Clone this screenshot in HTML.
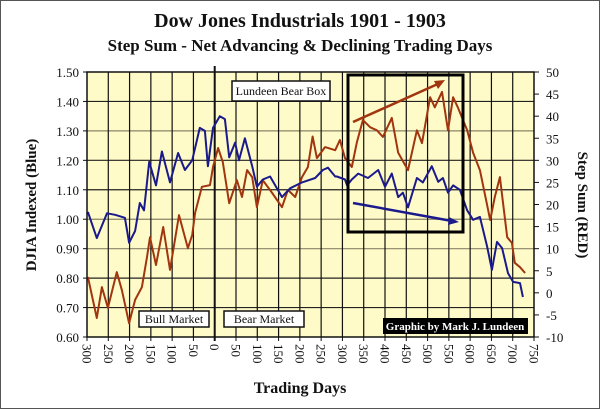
<!DOCTYPE html>
<html><head><meta charset="utf-8">
<style>
html,body{margin:0;padding:0;background:#fff;}
svg{display:block;font-family:"Liberation Serif",serif;}
</style></head>
<body>
<svg id="chart" width="600" height="409" viewBox="0 0 600 409" xmlns="http://www.w3.org/2000/svg">
<rect x="0.5" y="0.5" width="599" height="408" fill="#fff" stroke="#555" stroke-width="1"/>
<text x="300" y="27" text-anchor="middle" font-size="20" font-weight="bold" fill="#111">Dow Jones Industrials 1901 -  1903</text>
<text x="300" y="51" text-anchor="middle" font-size="17" font-weight="bold" fill="#111">Step Sum -  Net Advancing &amp; Declining Trading Days</text>
<rect x="87" y="72" width="447" height="265" fill="#fffbc8"/>
<g id="grid"></g>
<g id="series"></g>
<rect x="87" y="72" width="447" height="265" fill="none" stroke="#111" stroke-width="1.5"/>
<g id="axes"></g>
<rect x="348" y="75" width="115" height="157" fill="none" stroke="#000" stroke-width="3"/>
<line x1="353" y1="122" x2="440" y2="83" stroke="#a0350f" stroke-width="2.5"/>
<polygon points="445,80 434,81 438,89" fill="#a0350f"/>
<line x1="353" y1="203" x2="452" y2="221" stroke="#1a1a8c" stroke-width="2.5"/>
<polygon points="459,222 449,217 448,225" fill="#1a1a8c"/>
<rect x="232" y="81" width="98" height="20" fill="#fff" stroke="#111" stroke-width="1.5"/>
<text x="281" y="95" text-anchor="middle" font-size="12" fill="#111">Lundeen Bear Box</text>
<rect x="139" y="311" width="70" height="16" fill="#fff" stroke="#111" stroke-width="1.5"/>
<text x="174" y="323" text-anchor="middle" font-size="12" fill="#111">Bull Market</text>
<rect x="224" y="311" width="80" height="16" fill="#fff" stroke="#111" stroke-width="1.5"/>
<text x="264" y="323" text-anchor="middle" font-size="12" fill="#111">Bear Market</text>
<rect x="383" y="318" width="145" height="16" fill="#000"/>
<text x="455" y="330" text-anchor="middle" font-size="11" font-weight="bold" fill="#fff">Graphic by Mark J. Lundeen</text>
<text transform="translate(36,205) rotate(-90)" text-anchor="middle" font-size="15" font-weight="bold" fill="#111">DJIA Indexed (Blue)</text>
<text transform="translate(578,205) rotate(90)" text-anchor="middle" font-size="15" font-weight="bold" fill="#111">Step Sum (RED)</text>
<text x="300" y="393" text-anchor="middle" font-size="16" font-weight="bold" fill="#111">Trading Days</text>
</svg>
<script>
const blueDays=[-298,-277,-253,-234,-211,-201,-187,-176,-166,-154,-138,-124,-105,-86,-70,-53,-35,-23,-16,-4,12,24,34,48,57,71,88,99,113,130,158,177,205,236,254,266,283,287,306,311,322,337,360,384,400,416,431,442,454,475,489,510,525,536,548,560,576,593,607,623,640,651,663,675,689,701,717,724];
const blueVals=[1.025,0.936,1.02,1.015,1.005,0.92,0.96,1.055,1.03,1.195,1.115,1.23,1.125,1.225,1.167,1.2,1.31,1.30,1.18,1.31,1.35,1.34,1.21,1.26,1.20,1.275,1.18,1.11,1.135,1.145,1.075,1.105,1.125,1.14,1.167,1.175,1.145,1.145,1.135,1.115,1.135,1.155,1.14,1.167,1.11,1.155,1.075,1.09,1.04,1.14,1.125,1.18,1.127,1.14,1.09,1.115,1.10,1.03,0.998,1.008,0.906,0.828,0.923,0.902,0.817,0.787,0.783,0.736];
const redDays=[-298,-277,-265,-251,-230,-218,-201,-187,-171,-159,-152,-138,-121,-105,-84,-63,-53,-46,-30,-11,-4,8,19,34,52,64,76,88,99,113,135,158,172,189,205,219,230,240,259,283,294,306,322,334,348,365,381,395,416,431,454,475,487,506,517,534,548,560,571,593,607,623,647,658,670,687,698,705,717,729];
const redVals=[3.6,-5.7,1.3,-3.4,4.7,0.6,-6.9,-1.6,1.3,8.1,12.6,6.3,14.9,5.2,17.6,10.1,13.1,18.1,24,24.4,28.5,32.8,29.6,20.3,25.5,21.7,27.8,26.2,19.4,25.5,22.6,19.4,23.3,21.7,26.2,28.5,35.4,30.5,33,32.3,34.6,30.5,28.5,34.1,39.1,37.5,36.8,35.3,39.6,31.7,27.8,36.8,33.9,44.3,42,45.5,36.8,44.3,42,36.8,31.7,27.8,16.5,21.7,26.2,12.6,11.3,6.8,5.8,4.5];
const xTicks=[-300,-250,-200,-150,-100,-50,0,50,100,150,200,250,300,350,400,450,500,550,600,650,700,750];
const leftTicks=[0.6,0.7,0.8,0.9,1.0,1.1,1.2,1.3,1.4,1.5];
const rightTicks=[-10,-5,0,5,10,15,20,25,30,35,40,45,50];
const NS="http://www.w3.org/2000/svg";
const X0=87,X1=534,Y0=337,Y1=72;
function xs(d){return X0+(d+300)*(X1-X0)/1050;}
function yl(v){return Y0-(v-0.6)*(Y0-Y1)/0.9;}
function yr(s){return Y0-(s+10)*(Y0-Y1)/60;}
function mk(tag,attrs,parent){const e=document.createElementNS(NS,tag);for(const k in attrs)e.setAttribute(k,attrs[k]);parent.appendChild(e);return e;}
const grid=document.getElementById('grid'),axes=document.getElementById('axes'),series=document.getElementById('series');
const greyLines=[1.3,1.0,0.9];
leftTicks.forEach(v=>{
  if(v>0.6&&v<1.5){
    const ln=mk('line',{x1:X0,x2:X1,y1:yl(v),y2:yl(v),stroke:greyLines.some(g=>Math.abs(g-v)<1e-6)?'#8a8468':'#222','stroke-width':1.2},grid);
    
    
  }
  const t=mk('text',{x:79,y:yl(v)+5,'text-anchor':'end','font-size':13,fill:'#111'},axes);
  t.textContent=v.toFixed(2);
  
  
  const tk=mk('line',{x1:X0-4,x2:X0,y1:yl(v),y2:yl(v),stroke:'#111'},axes);
  
  
});
rightTicks.forEach(s=>{
  const t=mk('text',{x:546,y:yr(s)+5,'text-anchor':'start','font-size':13,fill:'#111'},axes);
  t.textContent=String(s);
  
  
  const tk=mk('line',{x1:X1,x2:X1+5,y1:yr(s),y2:yr(s),stroke:'#111'},axes);
  
  
});
xTicks.forEach(d=>{
  const x=xs(d);
  if(d>-300&&d<750){
    const ln=mk('line',{x1:x,x2:x,y1:d===0?66:Y1,y2:d===0?341:Y0,stroke:'#111','stroke-width':d===0?2:1.2},grid);
    
    
  }
  const tk=mk('line',{x1:x,x2:x,y1:Y0,y2:Y0+4,stroke:'#111'},axes);
  
  
  const t=mk('text',{transform:`translate(${x-4.5},${Y0+7}) rotate(90)`,'text-anchor':'start','font-size':13,fill:'#111'},axes);
  t.textContent=String(Math.abs(d));
  
  
});
function path(days,vals,yf){return days.map((d,i)=>(i?'L':'M')+xs(d).toFixed(1)+','+yf(vals[i]).toFixed(1)).join('');}
const rp=mk('path',{d:path(redDays,redVals,yr),fill:'none',stroke:'#a0350f','stroke-width':2,'stroke-linejoin':'round'},series);


const bp=mk('path',{d:path(blueDays,blueVals,yl),fill:'none',stroke:'#1a1a8c','stroke-width':2,'stroke-linejoin':'round'},series);


</script>
</body></html>
